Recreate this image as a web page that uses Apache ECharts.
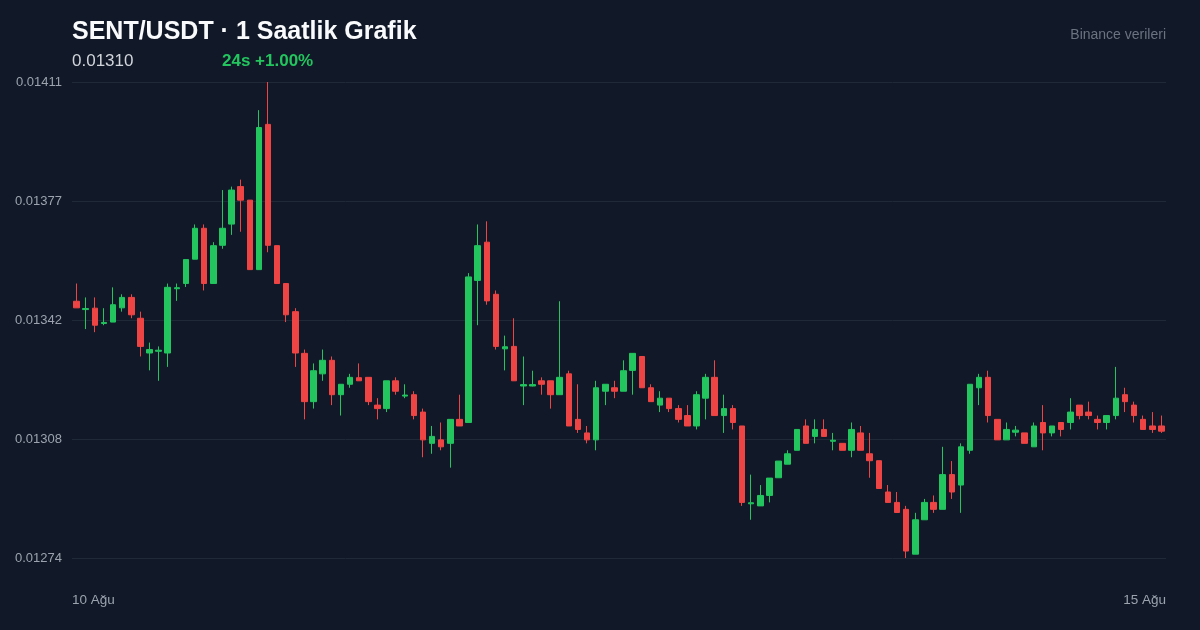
<!DOCTYPE html>
<html>
<head>
<meta charset="utf-8">
<script src="https://cdn.jsdelivr.net/npm/echarts@6/dist/echarts.min.js"></script>
<style>
html,body{margin:0;padding:0;background:#111827;}
#chart{width:1200px;height:630px;}
</style>
</head>
<body>
<div id="chart"></div>
<script>
const opens = [0.013477,0.013453,0.013457,0.013413,0.013417,0.013458,0.013488,0.013428,0.013328,0.013333,
0.013328,0.013513,0.013528,0.013598,0.013687,0.013528,0.013638,0.013699,0.013807,0.013768,
0.013568,0.013986,0.013637,0.013528,0.013447,0.013327,0.013188,0.013268,0.013307,0.013208,
0.013238,0.013257,0.013258,0.013178,0.013168,0.013248,0.013204,0.013208,0.013158,0.013068,
0.013078,0.013068,0.013137,0.013128,0.013537,0.013647,0.013497,0.013340,0.013347,0.013233,
0.013233,0.013248,0.013248,0.013208,0.013268,0.013137,0.013098,0.013078,0.013218,0.013228,
0.013218,0.013278,0.013318,0.013228,0.013178,0.013198,0.013168,0.013148,0.013118,0.013198,
0.013258,0.013148,0.013168,0.013118,0.012894,0.012888,0.012918,0.012969,0.013008,0.013048,
0.013118,0.013088,0.013108,0.013074,0.013068,0.013048,0.013098,0.013038,0.013018,0.012928,
0.012898,0.012878,0.012749,0.012848,0.012898,0.012878,0.012978,0.012948,0.013048,0.013228,
0.013258,0.013137,0.013078,0.013100,0.013098,0.013058,0.013128,0.013098,0.013128,0.013128,
0.013178,0.013158,0.013137,0.013128,0.013148,0.013208,0.013178,0.013137,0.013118,0.013118];
const closes = [0.013458,0.013456,0.013408,0.013416,0.013467,0.013488,0.013438,0.013347,0.013338,0.013336,
0.013517,0.013516,0.013597,0.013687,0.013528,0.013637,0.013687,0.013797,0.013768,0.013568,
0.013977,0.013638,0.013528,0.013438,0.013328,0.013188,0.013277,0.013307,0.013208,0.013238,
0.013258,0.013248,0.013188,0.013168,0.013248,0.013218,0.013207,0.013148,0.013078,0.013088,
0.013058,0.013137,0.013118,0.013547,0.013637,0.013478,0.013347,0.013346,0.013248,0.013237,
0.013237,0.013238,0.013208,0.013258,0.013118,0.013108,0.013078,0.013228,0.013238,0.013218,
0.013277,0.013327,0.013228,0.013188,0.013198,0.013168,0.013137,0.013118,0.013208,0.013258,
0.013148,0.013168,0.013128,0.012898,0.012897,0.012918,0.012968,0.013017,0.013038,0.013108,
0.013068,0.013108,0.013088,0.013077,0.013048,0.013108,0.013048,0.013018,0.012938,0.012898,
0.012869,0.012758,0.012848,0.012898,0.012878,0.012978,0.012928,0.013058,0.013238,0.013258,
0.013148,0.013078,0.013108,0.013106,0.013068,0.013118,0.013098,0.013118,0.013108,0.013158,
0.013148,0.013148,0.013128,0.013148,0.013198,0.013188,0.013148,0.013108,0.013108,0.013103];
const lows = [0.013458,0.013397,0.013388,0.013408,0.013417,0.013447,0.013428,0.013318,0.013278,0.013248,
0.013288,0.013478,0.013518,0.013598,0.013508,0.013528,0.013628,0.013668,0.013677,0.013568,
0.013568,0.013618,0.013528,0.013417,0.013288,0.013137,0.013168,0.013248,0.013178,0.013148,
0.013228,0.013248,0.013178,0.013137,0.013158,0.013208,0.013198,0.013137,0.013028,0.013038,
0.013048,0.012998,0.013118,0.013128,0.013408,0.013467,0.013338,0.013278,0.013248,0.013178,
0.013232,0.013208,0.013168,0.013208,0.013118,0.013098,0.013068,0.013048,0.013178,0.013198,
0.013218,0.013208,0.013228,0.013188,0.013158,0.013158,0.013128,0.013118,0.013108,0.013137,
0.013148,0.013098,0.013108,0.012888,0.012848,0.012888,0.012898,0.012969,0.013008,0.013048,
0.013068,0.013068,0.013088,0.013048,0.013048,0.013028,0.013048,0.012969,0.012938,0.012898,
0.012869,0.012738,0.012749,0.012848,0.012868,0.012878,0.012908,0.012868,0.013038,0.013178,
0.013128,0.013078,0.013078,0.013088,0.013068,0.013058,0.013048,0.013088,0.013088,0.013108,
0.013137,0.013137,0.013108,0.013108,0.013137,0.013158,0.013128,0.013108,0.013098,0.013098];
const highs = [0.013528,0.013488,0.013488,0.013457,0.013517,0.013497,0.013497,0.013447,0.013358,0.013347,
0.013528,0.013528,0.013597,0.013698,0.013698,0.013647,0.013797,0.013807,0.013827,0.013768,
0.014027,0.014108,0.013637,0.013528,0.013457,0.013338,0.013298,0.013338,0.013318,0.013238,
0.013268,0.013298,0.013258,0.013198,0.013248,0.013258,0.013238,0.013218,0.013168,0.013118,
0.013128,0.013137,0.013208,0.013558,0.013698,0.013707,0.013508,0.013378,0.013428,0.013318,
0.013277,0.013258,0.013248,0.013477,0.013277,0.013238,0.013118,0.013248,0.013238,0.013248,
0.013307,0.013327,0.013318,0.013238,0.013218,0.013198,0.013178,0.013178,0.013218,0.013268,
0.013307,0.013208,0.013178,0.013118,0.012978,0.012948,0.012968,0.013017,0.013048,0.013108,
0.013137,0.013137,0.013137,0.013098,0.013068,0.013128,0.013118,0.013098,0.013018,0.012948,
0.012928,0.012888,0.012868,0.012908,0.012918,0.013058,0.013017,0.013068,0.013238,0.013268,
0.013277,0.013137,0.013128,0.013118,0.013098,0.013128,0.013178,0.013118,0.013128,0.013198,
0.013178,0.013188,0.013148,0.013148,0.013288,0.013228,0.013188,0.013148,0.013158,0.013148];
const dateLabels = ['10 Ağu','11 Ağu','12 Ağu','13 Ağu','14 Ağu','15 Ağu'];
const yMin = 0.012738;
const yMax = 0.014108;
const titleText = 'SENT/USDT · 1 Saatlik Grafik';
const lastPriceText = '0.01310';
const changeText = '24s +1.00%';
const sourceText = 'Binance verileri';

const hours = opens.map((_, i) => 'H' + i);
const candleData = opens.map((o, i) => [o, closes[i], lows[i], highs[i]]);

const UP = '#22c55e', DOWN = '#ef4444';
const FONT = '"Liberation Sans", Arial, Helvetica, sans-serif';
const chart = echarts.init(document.getElementById('chart'), null, {renderer: 'canvas'});
chart.setOption({
  backgroundColor: '#111827',
  animation: false,
  title: [
    {text: titleText, left: 72, top: 20, padding: 0, textStyle: {color: '#f9fafb', fontSize: 25, fontWeight: 'bold', fontFamily: FONT}},
    {text: lastPriceText, left: 72, top: 53, padding: 0, textStyle: {color: '#d1d5db', fontSize: 17, fontWeight: 'normal', fontFamily: FONT}},
    {text: changeText, left: 222, top: 53, padding: 0, textStyle: {color: UP, fontSize: 17, fontWeight: 'bold', fontFamily: FONT}},
    {text: sourceText, right: 34, top: 28, padding: 0, textStyle: {color: '#6b7280', fontSize: 14, fontWeight: 'normal', fontFamily: FONT}}
  ],
  grid: {left: 72, right: 34, top: 82, bottom: 72, containLabel: false},
  xAxis: [
    {type: 'category', data: hours, boundaryGap: true,
      axisLine: {show: false}, axisTick: {show: false}, axisLabel: {show: false}, splitLine: {show: false}},
    {type: 'category', data: dateLabels, boundaryGap: false, position: 'bottom',
      axisLine: {show: false}, axisTick: {show: false}, splitLine: {show: false},
      axisLabel: {show: true, color: '#9ca3af', fontSize: 13.5, fontFamily: FONT, margin: 35,
        interval: (idx) => idx === 0 || idx === dateLabels.length - 1,
        alignMinLabel: 'left', alignMaxLabel: 'right'}}
  ],
  yAxis: {
    type: 'value', min: yMin, max: yMax, interval: (yMax - yMin) / 4 * (1 + 1e-9),
    axisLine: {show: false}, axisTick: {show: false},
    splitLine: {show: true, lineStyle: {color: '#1f2937', width: 1}},
    axisLabel: {color: '#9ca3af', fontSize: 13, fontFamily: FONT, margin: 10, padding: [2, 0, 0, 0],
      formatter: (v) => v.toFixed(5)}
  },
  series: [{
    type: 'candlestick',
    xAxisIndex: 0,
    data: candleData,
    barWidth: 6,
    itemStyle: {color: UP, color0: DOWN, borderColor: UP, borderColor0: DOWN, borderWidth: 1}
  }]
});
</script>
</body>
</html>
